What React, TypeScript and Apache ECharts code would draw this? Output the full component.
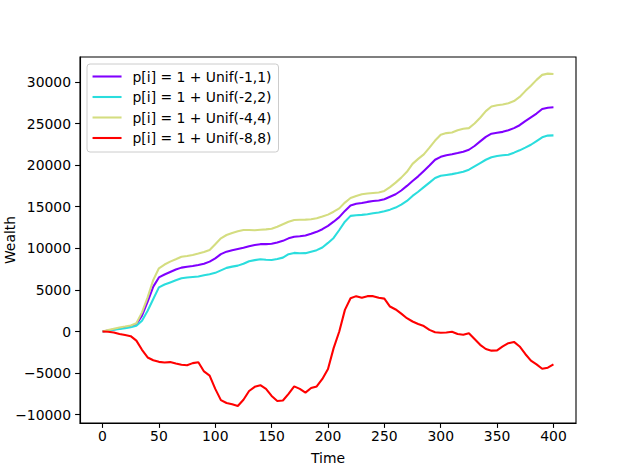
import React, { useEffect, useRef } from "react";
import * as echarts from "echarts";

const times: number[] = [];
for (let t = 0; t <= 400; t += 5) times.push(t);

const seriesNames = [
  "p[i] = 1 + Unif(-1,1)",
  "p[i] = 1 + Unif(-2,2)",
  "p[i] = 1 + Unif(-4,4)",
  "p[i] = 1 + Unif(-8,8)",
];

const colors = ["#8000ff", "#2adddd", "#d4dd80", "#ff0000"];

const unif1 = [
  0, 120, 250, 370, 470, 600, 880, 1900, 3600, 5400,
  6500, 6850, 7150, 7450, 7680, 7780, 7870, 8000, 8150, 8400,
  8800, 9300, 9600, 9780, 9930, 10080, 10250, 10400, 10500, 10500,
  10550, 10700, 10900, 11200, 11380, 11450, 11550, 11750, 11980, 12300,
  12700, 13200, 13750, 14500, 15150, 15350, 15450, 15580, 15680, 15750,
  15900, 16200, 16500, 16950, 17500, 18100, 18650, 19300, 19950, 20650,
  21000, 21200, 21300, 21450, 21620, 21850, 22300, 22850, 23400, 23780,
  23900, 24000, 24200, 24450, 24800, 25300, 25750, 26200, 26750, 26900,
  26950,
];

const unif2 = [
  0, 100, 200, 290, 400, 520, 680, 1300, 2500, 3900,
  5300, 5650, 5900, 6150, 6400, 6500, 6560, 6620, 6750, 6880,
  7050, 7350, 7650, 7800, 7920, 8150, 8450, 8580, 8680, 8630,
  8600, 8720, 8880, 9300, 9450, 9400, 9420, 9600, 9780, 10100,
  10650, 11250, 12200, 13200, 13900, 13980, 14020, 14100, 14210, 14300,
  14450, 14650, 14900, 15250, 15700, 16300, 16800, 17350, 17900, 18450,
  18720, 18820, 18920, 19050, 19200, 19450, 19850, 20250, 20650, 20950,
  21100, 21180, 21250, 21500, 21780, 22100, 22450, 22900, 23350, 23550,
  23580,
];

const unif4 = [
  0, 180, 340, 490, 600, 720, 1000, 2300, 4100, 6200,
  7600, 8050, 8400, 8680, 8980, 9080, 9200, 9370, 9550, 9800,
  10500, 11200, 11600, 11850, 12050, 12200, 12200, 12180, 12230, 12280,
  12350, 12600, 12900, 13200, 13400, 13430, 13450, 13500, 13620, 13820,
  14050, 14400, 14800, 15500, 16050, 16300, 16500, 16580, 16650, 16720,
  16900, 17350, 17900, 18500, 19200, 20150, 20750, 21300, 22100, 22950,
  23650, 23850, 23920, 24200, 24380, 24450, 25000, 25700, 26500, 27050,
  27200, 27300, 27450, 27700, 28200, 28900, 29550, 30250, 30850, 31000,
  30950,
];

const unif8 = [
  0, -20, -120, -310, -430, -560, -1100, -2200, -3120, -3450,
  -3650, -3720, -3680, -3850, -4000, -4050, -3800, -3700, -4800, -5300,
  -6900, -8250, -8600, -8750, -8950, -8200, -7150, -6650, -6450, -6900,
  -7750, -8350, -8300, -7500, -6600, -6900, -7350, -6800, -6600, -5700,
  -4500, -2000, 0, 2600, 4000, 4250, 4050, 4250, 4250, 4050,
  3950, 3000, 2650, 2150, 1600, 1200, 900, 650, 200, -80,
  -150, -120, -40, -300, -380, -200, -900, -1600, -2100, -2300,
  -2270, -1800, -1400, -1250, -1800, -2700, -3500, -3950, -4480, -4350,
  -3950,
];

const xTicks = [0, 50, 100, 150, 200, 250, 300, 350, 400];
const yTicks = [-10000, -5000, 0, 5000, 10000, 15000, 20000, 25000, 30000];

const FONT = "DejaVu Sans";
const FS = 13.9;

const fmt = (v: number) => (v < 0 ? "\u2212" + String(Math.abs(v)) : String(v));

export default function App() {
  const ref = useRef<HTMLDivElement>(null);
  useEffect(() => {
    if (!ref.current) return;
    const chart = echarts.init(ref.current, undefined, { renderer: "svg" });
    const allSeries = [unif1, unif2, unif4, unif8];
    chart.setOption({
      animation: false,
      backgroundColor: "#ffffff",
      grid: {
        left: 80,
        right: 64,
        top: 57,
        bottom: 53,
        containLabel: false,
        outerBoundsMode: "none",
        show: true,
        borderColor: "#000000",
        borderWidth: 1.1,
        backgroundColor: "transparent",
      },
      legend: {
        orient: "vertical",
        left: 87,
        top: 64,
        padding: [5.5, 7, 7, 4.5],
        itemWidth: 29,
        itemHeight: 14,
        itemGap: 6.5,
        backgroundColor: "rgba(255,255,255,0.8)",
        borderColor: "#cccccc",
        borderWidth: 1,
        borderRadius: 3,
        itemStyle: { opacity: 0 },
        lineStyle: { width: 2.08 },
        textStyle: {
          fontFamily: FONT,
          fontSize: FS,
          color: "#000000",
          padding: [0, 0, 0, 6],
        },
        data: seriesNames,
      },
      xAxis: {
        type: "value",
        min: -20,
        max: 420,
        name: "Time",
        nameLocation: "middle",
        nameGap: 28,
        nameMoveOverlap: false,
        nameTextStyle: { fontFamily: FONT, fontSize: FS, color: "#000000" },
        axisLine: { show: true, onZero: false, lineStyle: { color: "#000000", width: 1.1 } },
        axisTick: {
          show: true,
          length: 4.9,
          lineStyle: { color: "#000000", width: 1.1 },
          customValues: xTicks,
        },
        axisLabel: {
          fontFamily: FONT,
          fontSize: FS,
          color: "#000000",
          margin: 6,
          customValues: xTicks,
          formatter: fmt,
        },
        splitLine: { show: false },
      },
      yAxis: {
        type: "value",
        min: -11000,
        max: 33000,
        name: "Wealth",
        nameLocation: "middle",
        nameGap: 63,
        nameMoveOverlap: false,
        nameTextStyle: { fontFamily: FONT, fontSize: FS, color: "#000000" },
        axisLine: { show: true, onZero: false, lineStyle: { color: "#000000", width: 1.1 } },
        axisTick: {
          show: true,
          length: 4.9,
          lineStyle: { color: "#000000", width: 1.1 },
          customValues: yTicks,
        },
        axisLabel: {
          fontFamily: FONT,
          fontSize: FS,
          color: "#000000",
          margin: 9,
          customValues: yTicks,
          formatter: fmt,
        },
        splitLine: { show: false },
      },
      series: seriesNames.map((name, i) => ({
        name,
        type: "line",
        symbol: "none",
        smooth: false,
        color: colors[i],
        lineStyle: { color: colors[i], width: 2.08 },
        data: times.map((t, j) => [t, allSeries[i][j]]),
      })),
    });
    return () => chart.dispose();
  }, []);
  return (
    <div
      ref={ref}
      style={{ position: "fixed", left: 0, top: 0, width: 640, height: 476 }}
    />
  );
}
